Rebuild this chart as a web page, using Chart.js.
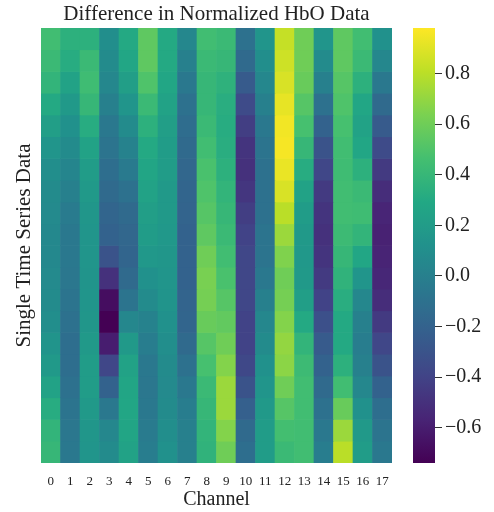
<!DOCTYPE html>
<html>
<head>
<meta charset="utf-8">
<script src="https://cdn.jsdelivr.net/npm/chart.js@4.4.1/dist/chart.umd.min.js"></script>
<style>
  html, body { margin: 0; padding: 0; background: #fff; }
  #wrap { position: relative; width: 494px; height: 512px; }
  #heat { position: absolute; left: 0; top: 0; }
  #cbar { position: absolute; left: 400px; top: 0; }
</style>
</head>
<body>
<div id="wrap">
  <canvas id="heat" width="400" height="512"></canvas>
  <canvas id="cbar" width="94" height="512"></canvas>
</div>
<script>
// channel labels on the x axis
const channels = ['0','1','2','3','4','5','6','7','8','9','10','11','12','13','14','15','16','17'];

// values per channel, top row first
const ch0  = [0.45, 0.42, 0.38, 0.30, 0.22, 0.15, 0.10, 0.08, 0.07, 0.06, 0.06, 0.07, 0.08, 0.10, 0.14, 0.18, 0.25, 0.32, 0.38, 0.40];
const ch1  = [0.35, 0.32, 0.25, 0.18, 0.12, 0.08, 0.04, 0.00, -0.03, -0.05, -0.05, -0.06, -0.08, -0.10, -0.12, -0.12, -0.10, -0.08, -0.06, -0.05];
const ch2  = [0.35, 0.42, 0.44, 0.40, 0.32, 0.25, 0.20, 0.18, 0.16, 0.15, 0.15, 0.14, 0.15, 0.16, 0.18, 0.20, 0.20, 0.18, 0.16, 0.15];
const ch3  = [0.10, 0.08, 0.05, 0.00, -0.05, -0.08, -0.12, -0.15, -0.18, -0.20, -0.30, -0.50, -0.68, -0.74, -0.60, -0.38, -0.20, -0.05, 0.05, 0.08];
const ch4  = [0.30, 0.28, 0.22, 0.15, 0.08, 0.02, -0.04, -0.10, -0.15, -0.17, -0.18, -0.15, -0.08, 0.05, 0.18, 0.25, 0.27, 0.28, 0.27, 0.25];
const ch5  = [0.55, 0.55, 0.50, 0.42, 0.35, 0.30, 0.27, 0.25, 0.22, 0.20, 0.17, 0.12, 0.08, 0.02, -0.02, -0.05, -0.06, -0.05, -0.03, -0.02];
const ch6  = [0.30, 0.30, 0.28, 0.25, 0.22, 0.20, 0.20, 0.18, 0.18, 0.17, 0.16, 0.15, 0.14, 0.12, 0.10, 0.08, 0.07, 0.08, 0.10, 0.12];
const ch7  = [0.05, 0.00, -0.05, -0.10, -0.13, -0.15, -0.17, -0.18, -0.19, -0.20, -0.20, -0.20, -0.19, -0.18, -0.15, -0.10, -0.05, -0.02, 0.00, 0.00];
const ch8  = [0.45, 0.42, 0.40, 0.40, 0.42, 0.45, 0.48, 0.50, 0.52, 0.55, 0.60, 0.63, 0.62, 0.58, 0.52, 0.47, 0.42, 0.40, 0.38, 0.37];
const ch9  = [0.42, 0.40, 0.36, 0.33, 0.32, 0.33, 0.35, 0.38, 0.40, 0.42, 0.45, 0.48, 0.52, 0.56, 0.60, 0.66, 0.72, 0.72, 0.66, 0.60];
const ch10 = [-0.10, -0.15, -0.25, -0.35, -0.43, -0.48, -0.50, -0.47, -0.43, -0.40, -0.38, -0.38, -0.38, -0.40, -0.40, -0.37, -0.30, -0.22, -0.15, -0.12];
const ch11 = [0.15, 0.10, 0.05, 0.00, -0.05, -0.08, -0.10, -0.10, -0.10, -0.08, -0.08, -0.05, 0.00, 0.05, 0.08, 0.12, 0.15, 0.18, 0.20, 0.20];
const ch12 = [0.83, 0.85, 0.88, 0.92, 0.95, 0.96, 0.93, 0.88, 0.80, 0.72, 0.65, 0.60, 0.62, 0.66, 0.70, 0.68, 0.60, 0.52, 0.46, 0.42];
const ch13 = [0.60, 0.60, 0.58, 0.52, 0.47, 0.40, 0.32, 0.25, 0.20, 0.18, 0.17, 0.18, 0.22, 0.30, 0.38, 0.43, 0.45, 0.45, 0.45, 0.45];
const ch14 = [0.15, 0.08, 0.00, -0.10, -0.20, -0.30, -0.38, -0.45, -0.48, -0.50, -0.48, -0.45, -0.40, -0.32, -0.25, -0.20, -0.15, -0.10, -0.05, -0.02];
const ch15 = [0.55, 0.55, 0.52, 0.50, 0.47, 0.45, 0.44, 0.45, 0.45, 0.43, 0.40, 0.37, 0.33, 0.30, 0.30, 0.35, 0.45, 0.58, 0.72, 0.80];
const ch16 = [0.45, 0.42, 0.35, 0.28, 0.25, 0.28, 0.35, 0.42, 0.44, 0.38, 0.28, 0.15, 0.05, 0.00, -0.02, 0.00, 0.05, 0.12, 0.18, 0.20];
const ch17 = [0.12, 0.05, -0.05, -0.15, -0.25, -0.35, -0.45, -0.52, -0.56, -0.58, -0.57, -0.55, -0.52, -0.45, -0.38, -0.30, -0.20, -0.12, -0.08, -0.05];

// colour bar range and ticks
const vMin = -0.74;
const vMax = 0.98;
const cbarTicks = [-0.6, -0.4, -0.2, 0.0, 0.2, 0.4, 0.6, 0.8];

const columns = [ch0, ch1, ch2, ch3, ch4, ch5, ch6, ch7, ch8, ch9, ch10, ch11, ch12, ch13, ch14, ch15, ch16, ch17];
const rowCount = ch0.length;

// viridis colour map (stops every 0.1)
const viridis = [
    [68, 1, 84], [72, 36, 117], [65, 68, 135], [53, 95, 141], [42, 120, 142],
    [33, 145, 140], [34, 168, 132], [68, 191, 112], [122, 209, 81], [189, 223, 38], [253, 231, 37]
];

function colourFor(v) {
    let t = (v - vMin) / (vMax - vMin);
    t = Math.max(0, Math.min(1, t));
    const pos = t * (viridis.length - 1);
    const i = Math.min(Math.floor(pos), viridis.length - 2);
    const f = pos - i;
    const a = viridis[i], b = viridis[i + 1];
    const c = a.map((x, k) => Math.round(x + (b[k] - x) * f));
    return `rgb(${c[0]}, ${c[1]}, ${c[2]})`;
}

const serif = "'Liberation Serif', 'DejaVu Serif', serif";

/*
 * Heatmap: one stacked dataset per row, one bar per channel
 */
const rowSets = [];
for (let r = 0; r < rowCount; r++) {
    rowSets.push({
        data: channels.map(() => 1),
        backgroundColor: columns.map(col => colourFor(col[r])),
        borderWidth: 0,
        barPercentage: 1,
        categoryPercentage: 1
    });
}

new Chart(document.getElementById('heat'), {
    type: 'bar',
    data: { labels: channels, datasets: rowSets },
    options: {
        responsive: false,
        animation: false,
        layout: { padding: { right: 8 } },
        plugins: {
            legend: { display: false },
            tooltip: { enabled: false },
            title: {
                display: true,
                fullSize: false,
                text: 'Difference in Normalized HbO Data',
                color: '#222',
                font: { family: serif, size: 21, weight: 'normal' },
                padding: { top: 2, bottom: 0.8 }
            }
        },
        scales: {
            x: {
                stacked: true,
                grid: { display: false, drawTicks: false },
                border: { display: false },
                ticks: { color: '#222', font: { family: serif, size: 13 }, padding: 11, maxRotation: 0, autoSkip: false },
                title: {
                    display: true,
                    text: 'Channel',
                    color: '#222',
                    font: { family: serif, size: 20 },
                    padding: { top: 0, bottom: 0 }
                },
                afterFit: (scale) => { scale.height = 49; }
            },
            y: {
                stacked: true,
                reverse: true,
                min: 0,
                max: rowCount,
                grid: { display: false, drawTicks: false },
                border: { display: false },
                ticks: { display: false },
                title: {
                    display: true,
                    text: 'Single Time Series Data',
                    color: '#222',
                    font: { family: serif, size: 21 },
                    padding: { top: 12, bottom: 0 }
                },
                afterFit: (scale) => { scale.width = 41; }
            }
        }
    }
});

/*
 * Colour bar
 */
new Chart(document.getElementById('cbar'), {
    type: 'bar',
    data: {
        labels: [''],
        datasets: [{
            data: [[vMin, vMax]],
            borderWidth: 0,
            barPercentage: 1,
            categoryPercentage: 1,
            backgroundColor: (ctx) => {
                const area = ctx.chart.chartArea;
                if (!area) return null;
                const g = ctx.chart.ctx.createLinearGradient(0, area.bottom, 0, area.top);
                for (let k = 0; k <= 20; k++) {
                    const t = k / 20;
                    g.addColorStop(t, colourFor(vMin + t * (vMax - vMin)));
                }
                return g;
            }
        }]
    },
    options: {
        responsive: false,
        animation: false,
        layout: { padding: { left: 13, top: 28, bottom: 49 } },
        plugins: { legend: { display: false }, tooltip: { enabled: false } },
        scales: {
            x: { display: false },
            y: {
                position: 'right',
                min: vMin,
                max: vMax,
                border: { display: false },
                grid: { drawOnChartArea: false, drawTicks: true, tickLength: 7, color: '#333' },
                afterBuildTicks: (scale) => { scale.ticks = cbarTicks.map(v => ({ value: v })); },
                ticks: {
                    color: '#222',
                    padding: 3,
                    font: { family: serif, size: 20 },
                    callback: (v) => Number(v).toFixed(1).replace('-', '\u2212')
                },
                afterFit: (scale) => { scale.width = 94 - 13 - 22; }
            }
        }
    }
});
</script>
</body>
</html>
